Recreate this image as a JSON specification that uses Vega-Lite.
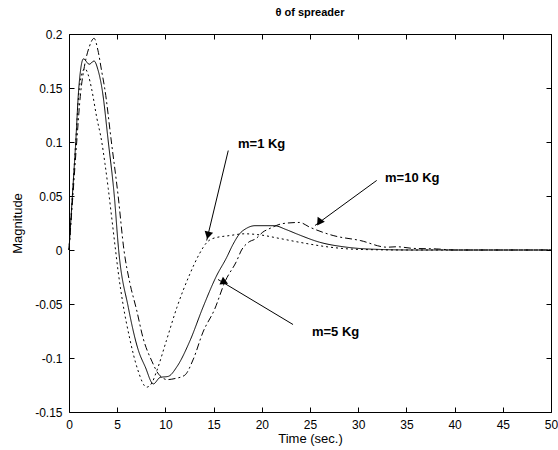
{
  "$schema": "https://vega.github.io/schema/vega-lite/v6.json",
  "width": 482,
  "height": 378,
  "autosize": "none",
  "padding": {"left": 69, "top": 34, "right": 7, "bottom": 38},
  "background": "white",
  "title": {"text": "θ of spreader", "fontSize": 11, "fontWeight": "bold", "font": "Liberation Sans", "color": "black", "offset": 10, "anchor": "middle"},
  "config": {
    "view": {"stroke": null},
    "axis": {"domainColor": "black", "tickColor": "black", "labelColor": "black", "titleColor": "black", "labelFont": "Liberation Sans", "titleFont": "Liberation Sans", "labelFontSize": 12, "titleFontSize": 13, "titleFontWeight": "normal", "grid": false, "tickSize": -5, "domainWidth": 1, "tickWidth": 1}
  },
  "datasets": {
    "curves": [
      {"m": "m=5 Kg", "t": 0, "v": 0}, {"m": "m=5 Kg", "t": 0.35, "v": 0.05}, {"m": "m=5 Kg", "t": 0.7, "v": 0.1}, {"m": "m=5 Kg", "t": 1.0, "v": 0.148}, {"m": "m=5 Kg", "t": 1.5, "v": 0.177}, {"m": "m=5 Kg", "t": 2.1, "v": 0.172}, {"m": "m=5 Kg", "t": 2.6, "v": 0.175}, {"m": "m=5 Kg", "t": 3.0, "v": 0.167}, {"m": "m=5 Kg", "t": 3.45, "v": 0.148}, {"m": "m=5 Kg", "t": 4.08, "v": 0.1}, {"m": "m=5 Kg", "t": 4.7, "v": 0.05}, {"m": "m=5 Kg", "t": 5.15, "v": 0}, {"m": "m=5 Kg", "t": 6.15, "v": -0.053}, {"m": "m=5 Kg", "t": 7.2, "v": -0.093}, {"m": "m=5 Kg", "t": 7.9, "v": -0.108}, {"m": "m=5 Kg", "t": 8.75, "v": -0.124}, {"m": "m=5 Kg", "t": 9.45, "v": -0.118}, {"m": "m=5 Kg", "t": 10.3, "v": -0.117}, {"m": "m=5 Kg", "t": 11.2, "v": -0.108}, {"m": "m=5 Kg", "t": 12.55, "v": -0.084}, {"m": "m=5 Kg", "t": 13.9, "v": -0.053}, {"m": "m=5 Kg", "t": 15.3, "v": -0.024}, {"m": "m=5 Kg", "t": 16.35, "v": -0.007}, {"m": "m=5 Kg", "t": 17.0, "v": 0.005}, {"m": "m=5 Kg", "t": 17.7, "v": 0.015}, {"m": "m=5 Kg", "t": 18.4, "v": 0.02}, {"m": "m=5 Kg", "t": 19.3, "v": 0.0225}, {"m": "m=5 Kg", "t": 21.3, "v": 0.0225}, {"m": "m=5 Kg", "t": 22.5, "v": 0.019}, {"m": "m=5 Kg", "t": 23.6, "v": 0.015}, {"m": "m=5 Kg", "t": 26.0, "v": 0.0072}, {"m": "m=5 Kg", "t": 28.8, "v": 0.0026}, {"m": "m=5 Kg", "t": 32.3, "v": 0.0005}, {"m": "m=5 Kg", "t": 36, "v": 0}, {"m": "m=5 Kg", "t": 50, "v": 0},
      {"m": "m=1 Kg", "t": 0, "v": 0}, {"m": "m=1 Kg", "t": 0.35, "v": 0.05}, {"m": "m=1 Kg", "t": 0.7, "v": 0.1}, {"m": "m=1 Kg", "t": 1.0, "v": 0.143}, {"m": "m=1 Kg", "t": 1.3, "v": 0.162}, {"m": "m=1 Kg", "t": 1.65, "v": 0.168}, {"m": "m=1 Kg", "t": 2.0, "v": 0.162}, {"m": "m=1 Kg", "t": 2.35, "v": 0.149}, {"m": "m=1 Kg", "t": 2.87, "v": 0.123}, {"m": "m=1 Kg", "t": 3.4, "v": 0.1}, {"m": "m=1 Kg", "t": 3.73, "v": 0.08}, {"m": "m=1 Kg", "t": 4.07, "v": 0.057}, {"m": "m=1 Kg", "t": 4.43, "v": 0.03}, {"m": "m=1 Kg", "t": 4.8, "v": 0.002}, {"m": "m=1 Kg", "t": 5.1, "v": -0.02}, {"m": "m=1 Kg", "t": 5.6, "v": -0.05}, {"m": "m=1 Kg", "t": 6.3, "v": -0.082}, {"m": "m=1 Kg", "t": 7.1, "v": -0.11}, {"m": "m=1 Kg", "t": 8.05, "v": -0.127}, {"m": "m=1 Kg", "t": 8.6, "v": -0.123}, {"m": "m=1 Kg", "t": 9.1, "v": -0.112}, {"m": "m=1 Kg", "t": 10.1, "v": -0.084}, {"m": "m=1 Kg", "t": 11.2, "v": -0.053}, {"m": "m=1 Kg", "t": 12.55, "v": -0.022}, {"m": "m=1 Kg", "t": 13.5, "v": -0.004}, {"m": "m=1 Kg", "t": 14.3, "v": 0.007}, {"m": "m=1 Kg", "t": 14.9, "v": 0.0106}, {"m": "m=1 Kg", "t": 16.7, "v": 0.0134}, {"m": "m=1 Kg", "t": 18.2, "v": 0.015}, {"m": "m=1 Kg", "t": 19.8, "v": 0.014}, {"m": "m=1 Kg", "t": 21.9, "v": 0.0106}, {"m": "m=1 Kg", "t": 24, "v": 0.007}, {"m": "m=1 Kg", "t": 27.1, "v": 0.0026}, {"m": "m=1 Kg", "t": 30.2, "v": 0.0005}, {"m": "m=1 Kg", "t": 35, "v": 0}, {"m": "m=1 Kg", "t": 50, "v": 0},
      {"m": "m=10 Kg", "t": 0, "v": 0}, {"m": "m=10 Kg", "t": 0.4, "v": 0.05}, {"m": "m=10 Kg", "t": 0.8, "v": 0.1}, {"m": "m=10 Kg", "t": 1.2, "v": 0.145}, {"m": "m=10 Kg", "t": 1.6, "v": 0.17}, {"m": "m=10 Kg", "t": 2.1, "v": 0.188}, {"m": "m=10 Kg", "t": 2.6, "v": 0.196}, {"m": "m=10 Kg", "t": 3.0, "v": 0.185}, {"m": "m=10 Kg", "t": 3.4, "v": 0.165}, {"m": "m=10 Kg", "t": 3.7, "v": 0.15}, {"m": "m=10 Kg", "t": 4.4, "v": 0.1}, {"m": "m=10 Kg", "t": 5.1, "v": 0.05}, {"m": "m=10 Kg", "t": 5.7, "v": 0}, {"m": "m=10 Kg", "t": 6.3, "v": -0.03}, {"m": "m=10 Kg", "t": 7.0, "v": -0.055}, {"m": "m=10 Kg", "t": 7.7, "v": -0.082}, {"m": "m=10 Kg", "t": 8.6, "v": -0.103}, {"m": "m=10 Kg", "t": 9.3, "v": -0.115}, {"m": "m=10 Kg", "t": 10.2, "v": -0.12}, {"m": "m=10 Kg", "t": 11.0, "v": -0.119}, {"m": "m=10 Kg", "t": 12.0, "v": -0.116}, {"m": "m=10 Kg", "t": 12.9, "v": -0.101}, {"m": "m=10 Kg", "t": 13.9, "v": -0.076}, {"m": "m=10 Kg", "t": 15.1, "v": -0.055}, {"m": "m=10 Kg", "t": 16.2, "v": -0.029}, {"m": "m=10 Kg", "t": 17.4, "v": -0.01}, {"m": "m=10 Kg", "t": 17.9, "v": 0}, {"m": "m=10 Kg", "t": 18.6, "v": 0.007}, {"m": "m=10 Kg", "t": 19.4, "v": 0.0106}, {"m": "m=10 Kg", "t": 20.1, "v": 0.0165}, {"m": "m=10 Kg", "t": 20.85, "v": 0.02}, {"m": "m=10 Kg", "t": 22.2, "v": 0.0245}, {"m": "m=10 Kg", "t": 23.9, "v": 0.0255}, {"m": "m=10 Kg", "t": 25, "v": 0.021}, {"m": "m=10 Kg", "t": 27.4, "v": 0.0134}, {"m": "m=10 Kg", "t": 30.2, "v": 0.0088}, {"m": "m=10 Kg", "t": 33, "v": 0.0026}, {"m": "m=10 Kg", "t": 34, "v": 0.003}, {"m": "m=10 Kg", "t": 35.7, "v": 0.0015}, {"m": "m=10 Kg", "t": 38.1, "v": 0.001}, {"m": "m=10 Kg", "t": 40, "v": 0}, {"m": "m=10 Kg", "t": 50, "v": 0}
    ],
    "notes": [
      {"label": "m=1 Kg", "tx": 17.53, "ty": 0.0986, "x1": 16.52, "y1": 0.0921, "x2": 14.28, "y2": 0.0088, "hx": 14.42, "hy": 0.0135},
      {"label": "m=10 Kg", "tx": 32.78, "ty": 0.0667, "x1": 31.92, "y1": 0.0644, "x2": 25.52, "y2": 0.0227, "hx": 25.95, "hy": 0.0256},
      {"label": "m=5 Kg", "tx": 25.2, "ty": -0.0759, "x1": 23.24, "y1": -0.069, "x2": 15.46, "y2": -0.0273, "hx": 15.92, "hy": -0.0300}
    ]
  },
  "resolve": {"axis": {"x": "independent", "y": "independent"}},
  "layer": [
    {
      "data": {"name": "curves"},
      "mark": {"type": "line", "color": "black", "strokeWidth": 1, "interpolate": "monotone"},
      "encoding": {
        "x": {"field": "t", "type": "quantitative", "scale": {"domain": [0, 50], "nice": false, "zero": false}, "axis": {"title": "Time (sec.)", "values": [0, 5, 10, 15, 20, 25, 30, 35, 40, 45, 50], "labelPadding": 12, "titlePadding": 2, "labelFlush": false}},
        "y": {"field": "v", "type": "quantitative", "scale": {"domain": [-0.15, 0.2], "nice": false, "zero": false}, "axis": {"title": "Magnitude", "values": [-0.15, -0.1, -0.05, 0, 0.05, 0.1, 0.15, 0.2], "labelExpr": "replace(format(datum.value, '.2~f'), '−', '-')", "labelPadding": 12, "titlePadding": 10, "labelFlush": false}},
        "detail": {"field": "m"},
        "strokeDash": {"field": "m", "type": "nominal", "scale": {"domain": ["m=5 Kg", "m=1 Kg", "m=10 Kg"], "range": [[1, 0], [2, 3], [7, 3, 2, 3]]}, "legend": null}
      }
    },
    {
      "data": {"name": "curves"},
      "mark": {"type": "point", "opacity": 0},
      "encoding": {
        "x": {"field": "t", "type": "quantitative", "axis": {"orient": "top", "labels": false, "title": null, "values": [0, 5, 10, 15, 20, 25, 30, 35, 40, 45, 50]}},
        "y": {"field": "v", "type": "quantitative", "axis": {"orient": "right", "labels": false, "title": null, "values": [-0.15, -0.1, -0.05, 0, 0.05, 0.1, 0.15, 0.2]}}
      }
    },
    {
      "data": {"name": "notes"},
      "mark": {"type": "rule", "color": "black", "strokeWidth": 1},
      "encoding": {
        "x": {"field": "x1", "type": "quantitative", "axis": null},
        "y": {"field": "y1", "type": "quantitative", "axis": null},
        "x2": {"field": "x2"},
        "y2": {"field": "y2"}
      }
    },
    {
      "data": {"name": "notes"},
      "mark": {"type": "point", "shape": "triangle-up", "filled": true, "color": "black", "size": 75, "opacity": 1},
      "encoding": {
        "x": {"field": "hx", "type": "quantitative", "axis": null},
        "y": {"field": "hy", "type": "quantitative", "axis": null},
        "angle": {"field": "label", "type": "nominal", "scale": {"domain": ["m=1 Kg", "m=10 Kg", "m=5 Kg"], "range": [193.5, 233.9, 301]}, "legend": null}
      }
    },
    {
      "data": {"name": "notes"},
      "mark": {"type": "text", "align": "left", "baseline": "middle", "font": "Liberation Sans", "fontSize": 13, "fontWeight": "bold", "color": "black"},
      "encoding": {
        "x": {"field": "tx", "type": "quantitative", "axis": null},
        "y": {"field": "ty", "type": "quantitative", "axis": null},
        "text": {"field": "label"}
      }
    }
  ]
}
